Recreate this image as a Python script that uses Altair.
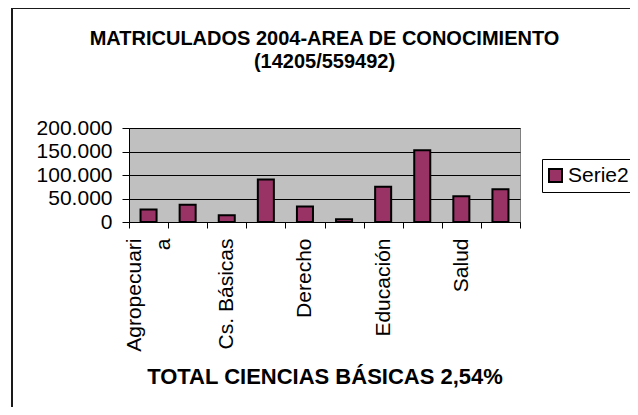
import json
import altair as alt
import pandas as pd

# ---- data ----
categories = ["Agropecuaria", "Bellas Artes", "Cs. Básicas", "Cs. Económicas", "Derecho",
              "Diseño", "Educación", "Ingeniería", "Salud", "Sociales"]
matriculados = [26600, 36500, 14205, 90400, 33000, 6000, 74800, 152800, 55000, 69600]
series_name = "Serie2"
y_ticks = [0, 50000, 100000, 150000, 200000]
title_lines = ["MATRICULADOS 2004-AREA DE CONOCIMIENTO", "(14205/559492)"]
x_title = "TOTAL CIENCIAS BÁSICAS 2,54%"

df = pd.DataFrame({"area": categories, "valor": matriculados,
                   "serie": [series_name] * len(categories)})
frame_df = pd.DataFrame({"k": [0]})

FONT = "Liberation Sans"
cats_js = json.dumps(categories, ensure_ascii=False)
x_label_expr = (f"indexof({cats_js}, datum.value) % 2 == 1 ? '' : "
                "(datum.value == 'Agropecuaria' ? ['Agropecuari', 'a'] : datum.label)")

bars = alt.Chart(df).mark_bar(
    width=alt.RelativeBandSize(0.41), stroke="black", strokeWidth=2
).encode(
    x=alt.X("area:N", sort=categories,
            scale=alt.Scale(paddingInner=0, paddingOuter=0),
            axis=alt.Axis(title=x_title, labelAngle=270, labelExpr=x_label_expr,
                          labelFont=FONT, labelFontSize=21, labelColor="black",
                          labelLineHeight=29, labelPadding=10, labelOverlap=False,
                          labelLimit=300,
                          labelOffset={"condition": {"test": "datum.value == 'Agropecuaria'",
                                                     "value": -14},
                                       "value": 0},
                          tickBand="extent", tickSize=6, tickColor="black", tickWidth=1,
                          domainColor="black", domainWidth=1,
                          titleFont=FONT, titleFontSize=22, titleFontWeight="bold",
                          titleColor="black", titlePadding=15)),
    y=alt.Y("valor:Q",
            scale=alt.Scale(domain=[0, 200000], nice=False),
            axis=alt.Axis(title=None, values=y_ticks,
                          labelExpr="replace(format(datum.value, ','), ',', '.')",
                          labelFont=FONT, labelFontSize=21, labelColor="black",
                          labelPadding=10, tickSize=7, tickColor="black", tickWidth=1,
                          domainColor="black", domainWidth=1,
                          grid=True, gridColor="black", gridWidth=1)),
    color=alt.Color("serie:N", scale=alt.Scale(range=["#993366"]),
                    legend=alt.Legend(title=None, orient="none", legendX=413, legendY=31,
                                      padding=6, strokeColor="black", fillColor="white",
                                      labelFont=FONT, labelFontSize=21, labelColor="black",
                                      symbolType="square", symbolSize=169,
                                      symbolStrokeColor="black", symbolStrokeWidth=2,
                                      symbolOffset=-3, labelOffset=2)),
)

left_line = alt.Chart(frame_df).mark_rule(color="#1a1a1a", strokeWidth=2).encode(
    x=alt.value(-117), y=alt.value(-121), y2=alt.value(300))
top_line = alt.Chart(frame_df).mark_rule(color="#1a1a1a", strokeWidth=2).encode(
    x=alt.value(-118), x2=alt.value(520), y=alt.value(-120))

chart = alt.layer(bars, left_line, top_line).properties(
    width=391, height=94,
    title=alt.TitleParams(text=title_lines, font=FONT, fontSize=20, fontWeight="bold",
                          color="black", anchor="middle", frame="group", offset=-66,
                          lineHeight=23),
    autosize=alt.AutoSizeParams(type="none"),
    padding={"left": 121, "top": 120, "right": 110, "bottom": 185},
).configure(background="white").configure_view(fill="#C0C0C0", stroke="#808080", strokeWidth=1)

chart.save("out.html", embed_options={"renderer": "svg", "actions": False})
